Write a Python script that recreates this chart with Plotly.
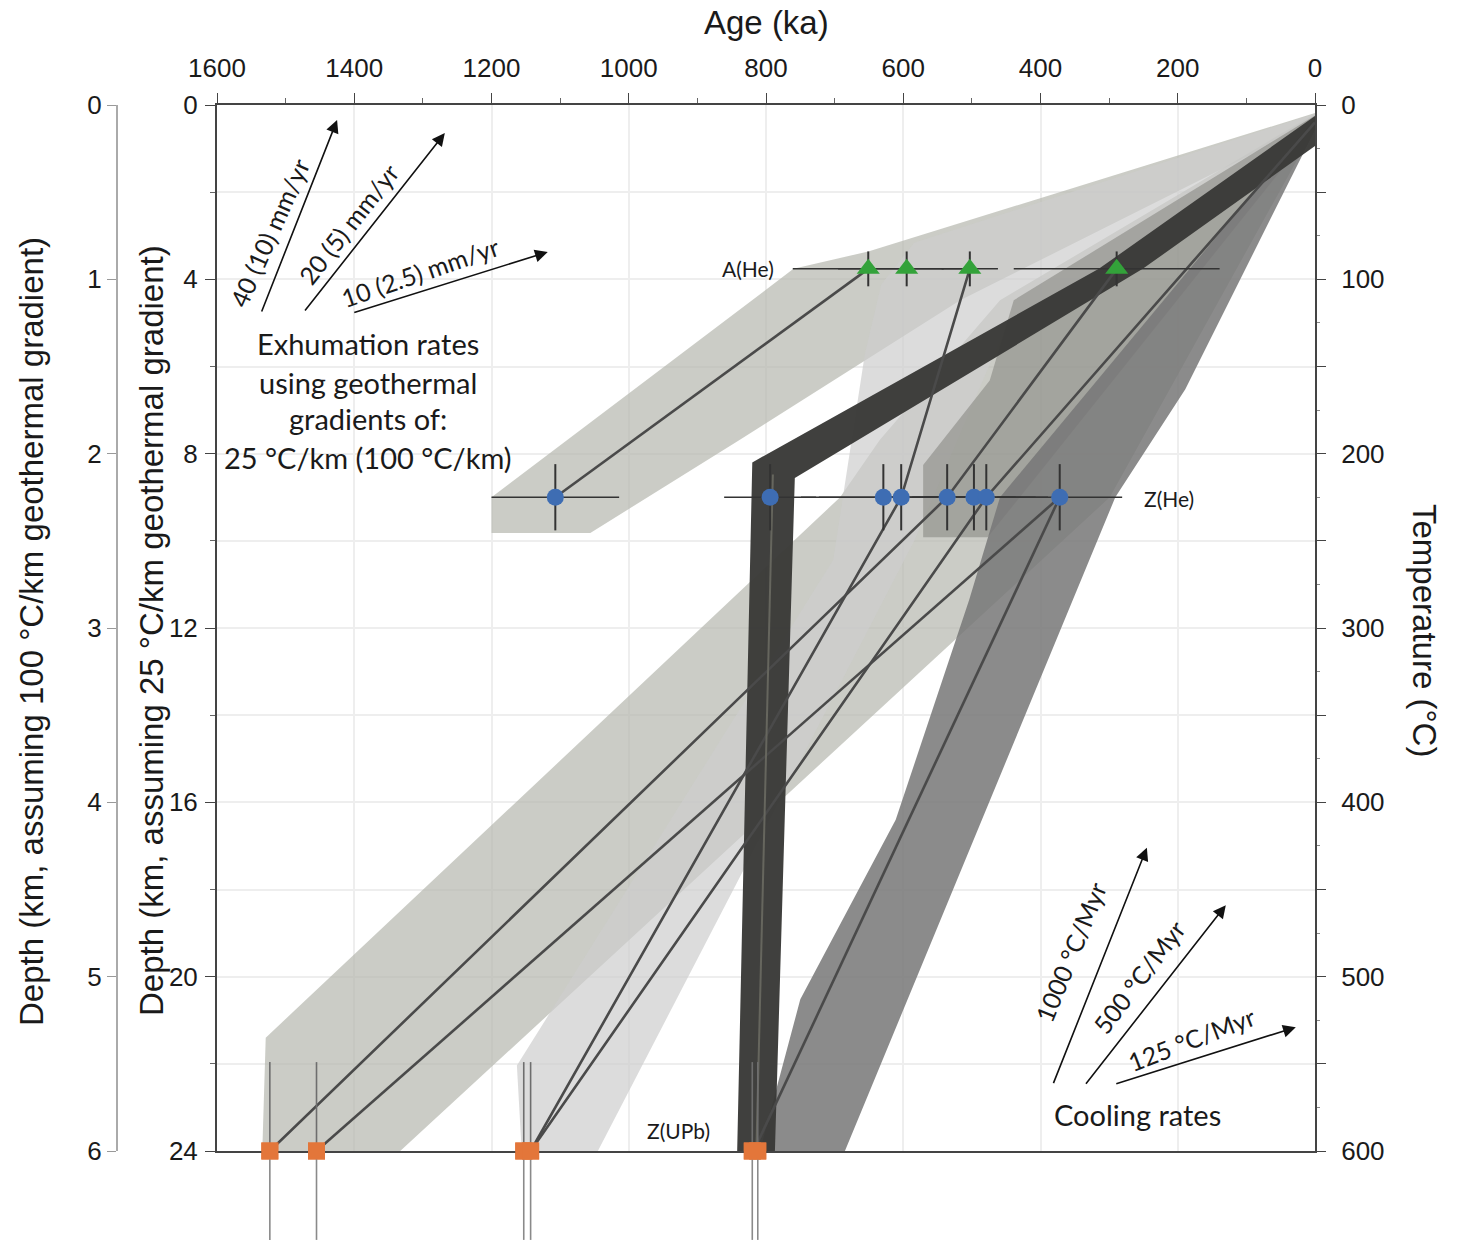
import plotly.graph_objects as go

# ---------------- data (age in ka, temperature in degC) ----------------
ahe_age = [651, 595, 503, 289]
ahe_age_err = [110, 100, 41, 150]
ahe_T = [94, 94, 94, 94]
ahe_T_err = [10, 10, 10, 10]

zhe_age = [1107, 794, 629, 603, 536, 497, 479, 372]
zhe_age_err = [93, 67, 120, 120, 100, 90, 90, 91]
zhe_T = [225, 225, 225, 225, 225, 225, 225, 225]
zhe_T_err = [19, 19, 19, 19, 19, 19, 19, 19]

zupb_age = [1523, 1455, 1153, 1143, 820, 812]
zupb_T = [600, 600, 600, 600, 600, 600]
zupb_T_err = [51, 51, 51, 51, 51, 51]

# thin model paths
path1_age = [1523, 536, 289]
path1_T = [600, 225, 94]
path2_age = [1455, 372]
path2_T = [600, 225]
path3_age = [1143, 603, 503]
path3_T = [600, 225, 94]
path4_age = [1143, 479, 0]
path4_T = [600, 225, 10]
path5_age = [818, 372]
path5_T = [600, 225]
path6_age = [1107, 651]
path6_T = [225, 94]
path_core_age = [814, 790]
path_core_T = [600, 212]

# envelopes (bands)
bandA_age = [0, 651, 760, 1200, 1200, 1056, 838, 517, 0]
bandA_T = [4.6, 84, 94, 225, 245.5, 245.5, 192, 112, 10]
bandB_age = [0, 584, 632, 656, 702, 1163, 1156, 1045, 584, 459, 0]
bandB_T = [5, 79, 103, 143, 261, 551, 600, 600, 250, 135, 11.5]
bandC_age = [1529, 1534, 1333, 831, 299, 0, 0, 459, 634, 692]
bandC_T = [535, 600, 600, 418, 225, 13, 5, 112, 192, 225]
bandF_age = [571, 477, 0, 0, 439, 474, 571]
bandF_T = [248, 248, 13, 6, 112, 158, 206.5]
bandD_age = [809, 750, 611, 504, 459, 0, 0, 189, 291, 685]
bandD_T = [600, 513, 410, 284, 225, 7.5, 14.3, 163, 225, 600]
thick_age = [0, 315, 820, 842, 787, 758, 251, 0]
thick_T = [6.3, 94, 205, 600, 600, 214, 94, 23.5]

# tick labels
age_ticks = [1600, 1400, 1200, 1000, 800, 600, 400, 200, 0]
temp_ticks = [0, 50, 100, 150, 200, 250, 300, 350, 400, 450, 500, 550, 600]
temp_labels = ["0", "", "100", "", "200", "", "300", "", "400", "", "500", "", "600"]
temp_minor = [25, 75, 125, 175, 225, 275, 325, 375, 425, 475, 525, 575]
d25_ticks = [0, 4, 8, 12, 16, 20, 24]
d25_minor = [2, 6, 10, 14, 18, 22]
d100_ticks = [0, 1, 2, 3, 4, 5, 6]

TICKFONT = dict(family="Liberation Sans, Arial", size=26, color="#1a1a1a")
TXT = "Lato, Open Sans, sans-serif"

fig = go.Figure()


def band(ages, temps, color):
    fig.add_trace(go.Scatter(x=ages, y=temps, mode="lines", fill="toself",
                             fillcolor=color, line=dict(width=0),
                             hoverinfo="skip", showlegend=False))


band(bandC_age, bandC_T, "rgba(181,182,174,0.7)")
band(bandA_age, bandA_T, "rgba(181,182,174,0.7)")
band(bandB_age, bandB_T, "rgba(205,205,205,0.7)")
band(bandF_age, bandF_T, "rgba(136,136,132,0.6)")
band(bandD_age, bandD_T, "rgba(119,119,119,0.85)")
band(thick_age, thick_T, "rgba(58,58,56,0.97)")

for a, t in [(path1_age, path1_T), (path2_age, path2_T), (path3_age, path3_T),
             (path4_age, path4_T), (path5_age, path5_T), (path6_age, path6_T)]:
    fig.add_trace(go.Scatter(x=a, y=t, mode="lines",
                             line=dict(color="#4a4a4a", width=2.6),
                             hoverinfo="skip", showlegend=False))
fig.add_trace(go.Scatter(x=path_core_age, y=path_core_T, mode="lines",
                         line=dict(color="#66665e", width=2),
                         hoverinfo="skip", showlegend=False))

# Z(UPb) error bars continuing below the frame (strip subplot under the main one)
fig.add_trace(go.Scatter(
    x=zupb_age, y=zupb_T, mode="markers", xaxis="x2", yaxis="y4", cliponaxis=False,
    marker=dict(symbol="square", size=17, color="#e3763a"),
    error_y=dict(type="data", array=zupb_T_err, arrayminus=[0] * len(zupb_T),
                 color="#8a8a8a", thickness=1.6, width=0),
    hoverinfo="skip", showlegend=False))

# Z(UPb)
fig.add_trace(go.Scatter(
    x=zupb_age, y=zupb_T, mode="markers", cliponaxis=False,
    marker=dict(symbol="square", size=17, color="#e3763a"),
    error_y=dict(type="data", array=zupb_T_err, color="#6e6e6e", thickness=1.6, width=0),
    showlegend=False))
# Z(He)
fig.add_trace(go.Scatter(
    x=zhe_age, y=zhe_T, mode="markers", cliponaxis=False,
    marker=dict(symbol="circle", size=17, color="#3e6db3"),
    error_x=dict(type="data", array=zhe_age_err, color="#333333", thickness=1.5, width=0),
    error_y=dict(type="data", array=zhe_T_err, color="#333333", thickness=2, width=0),
    showlegend=False))
# A(He)
fig.add_trace(go.Scatter(
    x=ahe_age, y=ahe_T, mode="markers", cliponaxis=False,
    marker=dict(symbol="triangle-up", size=20, color="#33a23a"),
    error_x=dict(type="data", array=ahe_age_err, color="#333333", thickness=1.5, width=0),
    error_y=dict(type="data", array=ahe_T_err, color="#333333", thickness=2, width=0),
    showlegend=False))

# dummy traces to activate the depth axes
fig.add_trace(go.Scatter(x=[None], y=[None], yaxis="y2", showlegend=False))
fig.add_trace(go.Scatter(x=[None], y=[None], yaxis="y3", showlegend=False))

# ---------------- layout ----------------
L, R, T, B = 20, 146, 105, 3
W, H = 1461, 1243
PW, PH = W - L - R, H - T - B
xdom0 = (217 - L) / PW
d100_pos = (117 - L) / PW
ydom0 = (H - B - 1151) / PH          # bottom of frame
strip_T_max = 600 + (H - B - 1151) * 600 / (1151 - 105)

fig.update_layout(
    width=W, height=H, margin=dict(l=L, r=R, t=T, b=B),
    paper_bgcolor="white", plot_bgcolor="white", showlegend=False,
    xaxis=dict(range=[1600, 0], domain=[xdom0, 1], side="top", anchor="y", automargin=False,
               tickvals=age_ticks, ticks="outside", ticklen=10, tickcolor="#444",
               tickfont=TICKFONT, ticklabelstandoff=6,
               minor=dict(dtick=100, ticks="outside", ticklen=5, tickcolor="#666", showgrid=False),
               showgrid=True, gridcolor="#eeeeee", gridwidth=1.5,
               showline=True, linecolor="#444", linewidth=2, mirror=True, zeroline=False),
    xaxis2=dict(range=[1600, 0], domain=[xdom0, 1], anchor="y4", matches="x", visible=False,
                showgrid=False, zeroline=False, automargin=False),
    yaxis=dict(range=[600, 0], domain=[ydom0, 1], side="right", anchor="x", automargin=False,
               tickvals=temp_ticks, ticktext=temp_labels, ticks="outside", ticklen=9,
               tickcolor="#444", tickfont=TICKFONT, ticklabelstandoff=10,
               minor=dict(tickvals=temp_minor, ticks="outside", ticklen=3, tickcolor="#888",
                          showgrid=False),
               showgrid=True, gridcolor="#eeeeee", gridwidth=1.5,
               showline=True, linecolor="#444", linewidth=2, mirror=True, zeroline=False),
    yaxis2=dict(range=[24, 0], overlaying="y", side="left", anchor="x", automargin=False,
                tickvals=d25_ticks, ticks="outside", ticklen=10, tickcolor="#444",
                tickfont=TICKFONT, ticklabelstandoff=2,
                minor=dict(tickvals=d25_minor, ticks="outside", ticklen=5, tickcolor="#666"),
                showgrid=False, zeroline=False, showline=True, linecolor="#444", linewidth=2),
    yaxis3=dict(range=[6, 0], overlaying="y", side="left", anchor="free", position=d100_pos,
                automargin=False,
                tickvals=d100_ticks, ticks="outside", ticklen=9, tickcolor="#999",
                tickfont=TICKFONT, ticklabelstandoff=0,
                showgrid=False, zeroline=False, showline=True, linecolor="#aaaaaa", linewidth=2),
    yaxis4=dict(range=[strip_T_max, 600], domain=[0, ydom0], anchor="x2", visible=False,
                showgrid=False, zeroline=False, automargin=False),
)


def px(xp):
    return (xp - L) / PW


def py(yp):
    return (H - B - yp) / PH


TITLEFONT = dict(family="Liberation Sans", size=33, color="#1a1a1a")
ann = []
# axis titles
ann.append(dict(text="Age (ka)", x=px(766), y=py(22), xref="paper", yref="paper",
                xanchor="center", yanchor="middle", showarrow=False, font=TITLEFONT))
ann.append(dict(text="Temperature (°C)", x=px(1425), y=py(630), xref="paper", yref="paper",
                xanchor="center", yanchor="middle", textangle=90, showarrow=False, font=TITLEFONT))
ann.append(dict(text="Depth (km, assuming 25 °C/km geothermal gradient)", x=px(151), y=py(631),
                xref="paper", yref="paper", xanchor="center", yanchor="middle",
                textangle=-90, showarrow=False, font=TITLEFONT))
ann.append(dict(text="Depth (km, assuming 100 °C/km geothermal gradient)", x=px(31), y=py(632),
                xref="paper", yref="paper", xanchor="center", yanchor="middle",
                textangle=-90, showarrow=False, font=TITLEFONT))

# labels in data space
lab = dict(family=TXT, size=21, color="#1a1a1a")
ann.append(dict(text="A(He)", x=785, y=94, xanchor="right", yanchor="middle",
                showarrow=False, font=lab))
ann.append(dict(text="Z(He)", x=252, y=226, xanchor="left", yanchor="middle",
                showarrow=False, font=lab))
ann.append(dict(text="Z(UPb)", x=928, y=588, xanchor="center", yanchor="middle",
                showarrow=False, font=lab))

big = dict(family=TXT, size=29, color="#1a1a1a")
for txt, t in [("Exhumation rates", 137), ("using geothermal", 159),
               ("gradients of:", 180), ("25 °C/km (100 °C/km)", 202)]:
    ann.append(dict(text=txt, x=1380, y=t, xanchor="center", yanchor="middle",
                    showarrow=False, font=big))
ann.append(dict(text="Cooling rates", x=258, y=579, xanchor="center", yanchor="middle",
                showarrow=False, font=big))

rot = dict(family=TXT, size=25, color="#1a1a1a")
for txt, a, t, ang in [("40 (10) mm/yr", 1523, 73, -66), ("20 (5) mm/yr", 1409, 68, -52),
                       ("10 (2.5) mm/yr", 1304, 96, -19), ("1000 °C/Myr", 356, 486, -68),
                       ("500 °C/Myr", 257, 500, -53), ("125 °C/Myr", 180, 536, -21)]:
    ann.append(dict(text=txt, x=a, y=t, textangle=ang, xanchor="center", yanchor="middle",
                    showarrow=False, font=rot))

# arrows (head position, tail offset in px)
for a, t, dx, dy in [(1425, 8.6, -76, 193), (1268, 16.1, -141, 179), (1118, 84.3, -195, 61),
                     (245, 426, -94, 237), (130, 459, -141, 180), (28, 529, -181, 57)]:
    ann.append(dict(text="", x=a, y=t, ax=dx, ay=dy, showarrow=True, arrowhead=2,
                    arrowsize=1.6, arrowwidth=1.6, arrowcolor="#111", standoff=0))

fig.update_layout(annotations=ann)

fig.write_html("out.html", config={"displayModeBar": False},
               post_script="document.body.style.margin='0';")
